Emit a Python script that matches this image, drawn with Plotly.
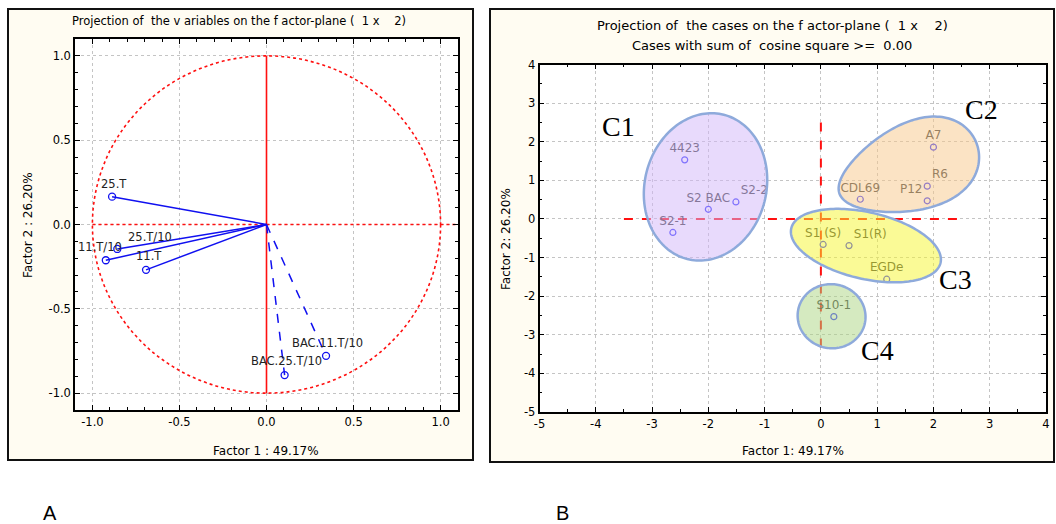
import numpy as np
import plotly.graph_objects as go

W, H = 1056, 524

# ---------------- data: panel A (variables) ----------------
var_names = ["25.T", "25.T/10", "11.T/10", "11.T", "BAC.11.T/10", "BAC.25.T/10"]
var_f1 = [-0.887, -0.857, -0.923, -0.692, 0.342, 0.104]
var_f2 = [0.165, -0.145, -0.212, -0.269, -0.779, -0.893]
var_dashed = [False, False, False, False, True, True]
var_label_dx = [2, 33, -6, 3, 1, 2]      # label offsets in px
var_label_dy = [13, 12, 13, 14, 13, 14]

ticks_a = [-1.0, -0.5, 0.0, 0.5, 1.0]

# ---------------- data: panel B (cases) ----------------
case_names = ["4423", "S2 BAC", "S2-2", "S2-1", "A7", "R6", "P12", "CDL69",
              "S1 (S)", "S1(R)", "EGDe", "S10-1"]
case_f1 = [-2.42, -2.00, -1.51, -2.63, 2.00, 1.89, 1.89, 0.70, 0.04, 0.50, 1.17, 0.23]
case_f2 = [1.53, 0.25, 0.44, -0.35, 1.86, 0.85, 0.47, 0.51, -0.66, -0.69, -1.56, -2.53]
case_textpos = ["top center", "top center", "top right", "top center", "top center",
                "top right", "top left", "top center", "top center", "top right",
                "top center", "top center"]

ticks_b = [-5, -4, -3, -2, -1, 0, 1, 2, 3, 4]

cluster_names = ["C1", "C2", "C3", "C4"]
cluster_label_x = [-3.6, 2.86, 2.4, 1.01]
cluster_label_y = [2.39, 2.84, -1.56, -3.41]
# outline: centre (data), semi-axes (px), angle (deg), egg factor
cluster_cx = [-2.05, 1.55, 0.80, 0.19]
cluster_cy = [0.83, 1.30, -0.69, -2.52]
cluster_a = [74.4, 73.0, 76.6, 34.0]
cluster_b = [60.8, 43.0, 33.3, 32.0]
cluster_ang = [75.8, 20.0, -13.0, -10.0]
cluster_egg = [0.0, 0.25, 0.0, 0.0]
cluster_fill = ["rgba(209,181,249,0.5)", "rgba(247,199,137,0.5)",
                "rgba(245,245,45,0.5)", "rgba(171,213,129,0.5)"]

# ---------------- layout geometry (px) ----------------
A_plot = (75, 458, 39, 410)       # x0, x1, y0(top), y1(bottom)
B_plot = (539.5, 1046, 64.5, 412)
A_frame = (8, 473, 9, 460)
B_frame = (490, 1054, 9, 462)

def px2paper_x(x):
    return x / W

def px2paper_y(y):
    return 1 - y / H

FONT = "DejaVu Sans, Verdana, sans-serif"
NB = "\u00a0"

fig = go.Figure()

# ---------- panel A traces ----------
for name, x, y, dashed in zip(var_names, var_f1, var_f2, var_dashed):
    fig.add_trace(go.Scatter(
        x=[0, x], y=[0, y], mode="lines",
        line=dict(color="#1010f0", width=1.5, dash="dash" if dashed else "solid"),
        xaxis="x", yaxis="y", showlegend=False, hoverinfo="skip"))
fig.add_trace(go.Scatter(
    x=var_f1, y=var_f2, mode="markers",
    marker=dict(symbol="circle-open", size=7, color="#1010f0", line=dict(width=1.3)),
    xaxis="x", yaxis="y", showlegend=False, text=var_names))

# ---------- panel B traces ----------
fig.add_trace(go.Scatter(x=[-3.5, 2.5], y=[0, 0], mode="lines",
                         line=dict(color="#ff1010", width=2, dash="dash"),
                         xaxis="x2", yaxis="y2", showlegend=False, hoverinfo="skip"))
fig.add_trace(go.Scatter(x=[0, 0], y=[2.5, -3.5], mode="lines",
                         line=dict(color="#ff1010", width=2, dash="dash"),
                         xaxis="x2", yaxis="y2", showlegend=False, hoverinfo="skip"))
fig.add_trace(go.Scatter(
    x=case_f1, y=case_f2, mode="markers+text", text=case_names,
    textposition=case_textpos,
    textfont=dict(family=FONT, size=12, color="#383838"),
    marker=dict(symbol="circle-open", size=6, color="#3030ff", line=dict(width=1.2)),
    xaxis="x2", yaxis="y2", showlegend=False))

# ---------- shapes ----------
shapes = []
for (x0, x1, y0, y1) in (A_frame, B_frame):
    shapes.append(dict(type="rect", xref="paper", yref="paper",
                       x0=px2paper_x(x0), x1=px2paper_x(x1),
                       y0=px2paper_y(y1), y1=px2paper_y(y0),
                       fillcolor="#fffcf2", line=dict(color="#111111", width=2),
                       layer="below"))
for (x0, x1, y0, y1) in (A_plot, B_plot):
    shapes.append(dict(type="rect", xref="paper", yref="paper",
                       x0=px2paper_x(x0), x1=px2paper_x(x1),
                       y0=px2paper_y(y1), y1=px2paper_y(y0),
                       fillcolor="white", line=dict(width=0), layer="below"))

# unit circle + axes in panel A
shapes.append(dict(type="circle", xref="x", yref="y", x0=-1, y0=-1, x1=1, y1=1,
                   line=dict(color="#ff1010", width=1.6, dash="dot"), layer="between"))
shapes.append(dict(type="line", xref="x", yref="y", x0=0, y0=-1, x1=0, y1=1,
                   line=dict(color="#ff1010", width=1.6), layer="between"))
shapes.append(dict(type="line", xref="x", yref="y", x0=-1, y0=0, x1=1.1, y1=0,
                   line=dict(color="#ff1010", width=1.6, dash="dot"), layer="between"))

# cluster outlines in panel B
sx = (B_plot[1] - B_plot[0]) / (ticks_b[-1] - ticks_b[0])
sy = (B_plot[3] - B_plot[2]) / (ticks_b[-1] - ticks_b[0])

def blob_path(cx, cy, a, b, ang, egg, n=160):
    t = np.linspace(0, 2 * np.pi, n, endpoint=False)
    u = a * np.cos(t)
    v = b * np.sin(t) * (1 + egg * np.cos(t))
    th = np.radians(ang)
    X = u * np.cos(th) - v * np.sin(th)
    Y = u * np.sin(th) + v * np.cos(th)
    xs = cx + X / sx
    ys = cy + Y / sy
    return "M " + " L ".join(f"{x:.4f},{y:.4f}" for x, y in zip(xs, ys)) + " Z"

for i in range(len(cluster_names)):
    shapes.append(dict(type="path", xref="x2", yref="y2",
                       path=blob_path(cluster_cx[i], cluster_cy[i], cluster_a[i],
                                      cluster_b[i], cluster_ang[i], cluster_egg[i]),
                       fillcolor=cluster_fill[i],
                       line=dict(color="#8eaadb", width=2.5), layer="above"))

# ---------- annotations ----------
ann = []
for name, x, y, dx, dy in zip(var_names, var_f1, var_f2, var_label_dx, var_label_dy):
    ann.append(dict(x=x, y=y, xref="x", yref="y", text=name, showarrow=False,
                    xshift=dx, yshift=dy, font=dict(family=FONT, size=11.5, color="#222222")))

for name, x, y in zip(cluster_names, cluster_label_x, cluster_label_y):
    ann.append(dict(x=x, y=y, xref="x2", yref="y2", text=name, showarrow=False,
                    font=dict(family="Liberation Serif, Times New Roman, serif", size=28,
                              color="black")))

def ptext(text, x, y, size=12, angle=0, family=FONT):
    return dict(x=px2paper_x(x), y=px2paper_y(y), xref="paper", yref="paper",
                text=text, showarrow=False, textangle=angle,
                xanchor="center", yanchor="middle",
                font=dict(family=family, size=size, color="black"))

ann += [
    ptext(f"Projection of{NB} the v ariables on the f actor-plane ({NB} 1 x {NB}{NB} 2)",
          239, 21, size=11.5),
    ptext("Factor 1 : 49.17%", 266, 451),
    ptext("Factor 2 : 26.20%", 28, 225, angle=-90),
    ptext(f"Projection of{NB} the cases on the f actor-plane ({NB} 1 x {NB}{NB} 2)",
          772, 25, size=13),
    ptext(f"Cases with sum of{NB} cosine square >={NB} 0.00", 772, 45, size=13),
    ptext("Factor 1: 49.17%", 793, 451),
    ptext("Factor 2: 26.20%", 506, 239, angle=-90),
    ptext("A", 50, 513, size=20, family="Liberation Sans, Arial, sans-serif"),
    ptext("B", 562, 513, size=20, family="Liberation Sans, Arial, sans-serif"),
]

axis_common = dict(showgrid=True, gridcolor="#c4c4c4", griddash="dot", gridwidth=1,
                   zeroline=False, showline=True, linecolor="black", linewidth=1.5,
                   mirror="ticks", ticks="inside", ticklen=5, tickcolor="black",
                   automargin=False,
                   tickfont=dict(family=FONT, size=11.5, color="black"))

fig.update_layout(
    template="none",
    width=W, height=H, margin=dict(l=0, r=0, t=0, b=0, pad=0), autosize=False,
    paper_bgcolor="white", plot_bgcolor="rgba(0,0,0,0)",
    showlegend=False,
    xaxis=dict(domain=[px2paper_x(A_plot[0]), px2paper_x(A_plot[1])], range=[-1.1, 1.1],
               tickvals=ticks_a, ticktext=[f"{v:.1f}" for v in ticks_a], anchor="y",
               minor=dict(dtick=0.1, ticks="inside", ticklen=3, tickcolor="black", showgrid=False),
               **axis_common),
    yaxis=dict(domain=[px2paper_y(A_plot[3]), px2paper_y(A_plot[2])], range=[-1.1, 1.1],
               tickvals=ticks_a, ticktext=[f"{v:.1f}" for v in ticks_a], anchor="x",
               minor=dict(dtick=0.1, ticks="inside", ticklen=3, tickcolor="black", showgrid=False),
               **axis_common),
    xaxis2=dict(domain=[px2paper_x(B_plot[0]), px2paper_x(B_plot[1])], range=[-5, 4],
                tickvals=ticks_b, ticktext=[f"{v:d}" for v in ticks_b], anchor="y2",
                minor=dict(dtick=0.5, ticks="inside", ticklen=3, tickcolor="black", showgrid=False),
                **axis_common),
    yaxis2=dict(domain=[px2paper_y(B_plot[3]), px2paper_y(B_plot[2])], range=[-5, 4],
                tickvals=ticks_b, ticktext=[f"{v:d}" for v in ticks_b], anchor="x2",
                minor=dict(dtick=0.5, ticks="inside", ticklen=3, tickcolor="black", showgrid=False),
                **axis_common),
    shapes=shapes,
    annotations=ann,
)

fig.write_html("out.html", config={"displayModeBar": False},
               post_script="document.body.style.margin='0px';document.body.style.overflow='hidden';")
